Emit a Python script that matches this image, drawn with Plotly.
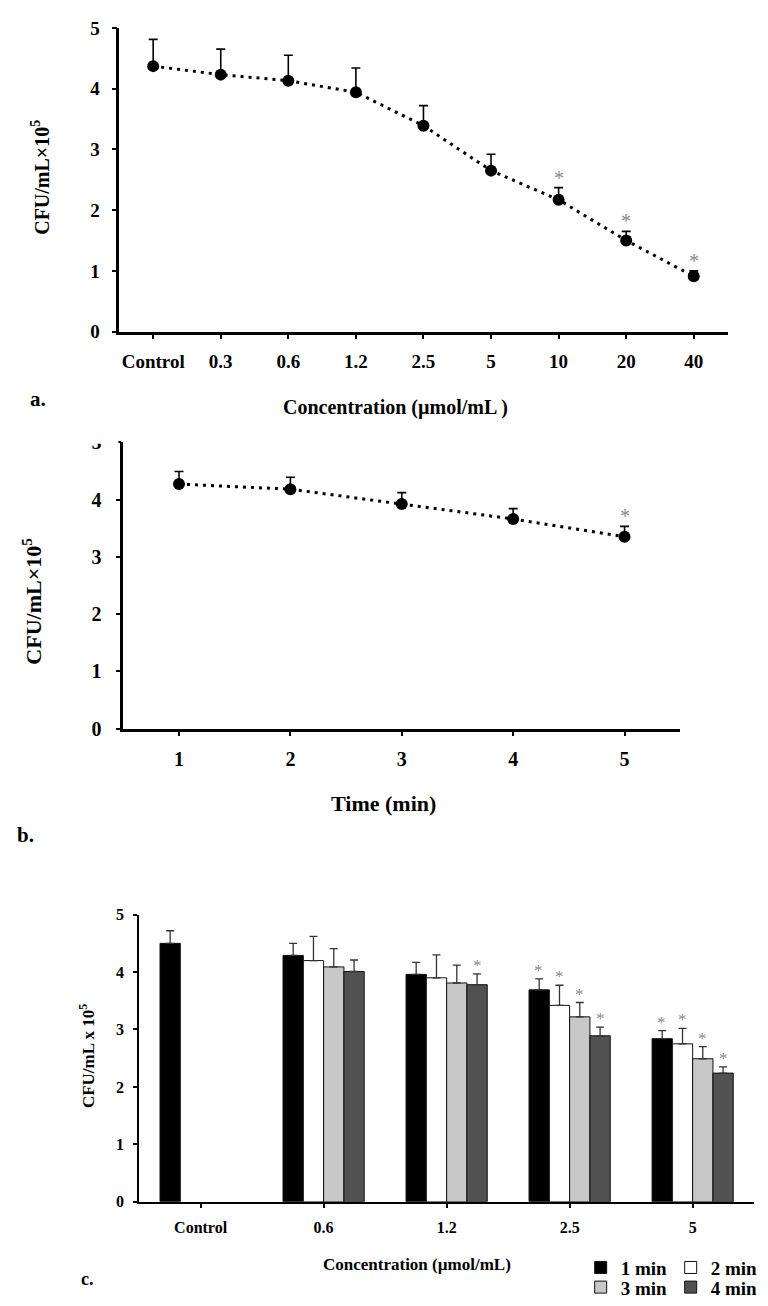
import plotly.graph_objects as go

# ---------------- data ----------------
# Panel a: concentration series
conc_a = ["Control", "0.3", "0.6", "1.2", "2.5", "5", "10", "20", "40"]
cfu_a = [4.37, 4.23, 4.13, 3.94, 3.39, 2.65, 2.17, 1.50, 0.91]
err_a = [0.44, 0.42, 0.42, 0.40, 0.33, 0.27, 0.20, 0.15, 0.09]
sig_a = [0, 0, 0, 0, 0, 0, 1, 1, 1]

# Panel b: time series
time_b = [1, 2, 3, 4, 5]
cfu_b = [4.27, 4.18, 3.92, 3.66, 3.35]
err_b = [0.22, 0.21, 0.20, 0.18, 0.18]
sig_b = [0, 0, 0, 0, 1]

# Panel c: grouped bars
conc_c = ["Control", "0.6", "1.2", "2.5", "5"]
series_c = ["1 min", "2 min", "3 min", "4 min"]
cfu_1min = [4.50, 4.29, 3.96, 3.69, 2.84]
cfu_2min = [None, 4.20, 3.90, 3.42, 2.75]
cfu_3min = [None, 4.09, 3.81, 3.22, 2.49]
cfu_4min = [None, 4.01, 3.78, 2.89, 2.24]
err_1min = [0.22, 0.21, 0.21, 0.19, 0.14]
err_2min = [None, 0.42, 0.40, 0.35, 0.27]
err_3min = [None, 0.32, 0.31, 0.25, 0.21]
err_4min = [None, 0.20, 0.19, 0.15, 0.11]
sig_1min = [0, 0, 0, 1, 1]
sig_2min = [0, 0, 0, 1, 1]
sig_3min = [0, 0, 0, 1, 1]
sig_4min = [0, 0, 1, 1, 1]

# ---------------- layout helpers ----------------
W, H = 768, 1306
FONT = "Liberation Serif"


def px(x):
    return x / W


def py(y):
    return 1 - y / H


bar_colors = ["#000000", "#ffffff", "#c8c8c8", "#515151"]
BARGAP = 0.34

dom_a_x = [px(113), px(730)]
dom_a_y = [py(318), py(9)]
dom_b_x = [px(117), px(682)]
dom_b_y = [py(721.7), py(430.5)]
dom_c_x = [px(133), px(757)]
dom_c_y = [py(1203), py(911)]

fig = go.Figure()

# Panel a
fig.add_trace(go.Scatter(
    x=conc_a, y=cfu_a, mode="lines+markers", xaxis="x", yaxis="y",
    line=dict(color="black", width=3, dash="3px,5px"),
    marker=dict(color="black", size=12),
    error_y=dict(type="data", symmetric=False, array=err_a,
                 arrayminus=[0] * len(err_a), color="black", thickness=1.6, width=4.5),
    showlegend=False, hoverinfo="skip",
))

# Panel b
fig.add_trace(go.Scatter(
    x=time_b, y=cfu_b, mode="lines+markers", xaxis="x2", yaxis="y2",
    line=dict(color="black", width=3, dash="3px,5px"),
    marker=dict(color="black", size=12),
    error_y=dict(type="data", symmetric=False, array=err_b,
                 arrayminus=[0] * len(err_b), color="black", thickness=1.6, width=4.5),
    showlegend=False, hoverinfo="skip",
))

# Panel c
vals_c = [cfu_1min, cfu_2min, cfu_3min, cfu_4min]
errs_c = [err_1min, err_2min, err_3min, err_4min]
sigs_c = [sig_1min, sig_2min, sig_3min, sig_4min]
legend_of = ["legend", "legend", "legend2", "legend2"]
entry_w = [45, 60, 45, 60]
for i, name in enumerate(series_c):
    fig.add_trace(go.Bar(
        x=conc_c, y=vals_c[i], name=name, xaxis="x3", yaxis="y3",
        marker=dict(color=bar_colors[i], line=dict(color="#111111", width=1)),
        error_y=dict(type="data", symmetric=False, array=errs_c[i],
                     arrayminus=[0] * len(conc_c), color="#333333", thickness=1.3, width=4),
        legend=legend_of[i], legendwidth=entry_w[i], hoverinfo="skip",
    ))

axis_common = dict(showgrid=False, zeroline=False, showline=True, linecolor="black",
                   ticks="outside", tickcolor="black", fixedrange=True)

legend_common = dict(xanchor="left", yanchor="middle", orientation="h",
                     bgcolor="rgba(0,0,0,0)", itemwidth=30,
                     entrywidthmode="pixels", tracegroupgap=0,
                     font=dict(family=FONT, size=19, weight="bold"))

fig.update_layout(
    width=W, height=H,
    margin=dict(l=0, r=0, t=0, b=0),
    paper_bgcolor="white", plot_bgcolor="white",
    barmode="group", bargap=BARGAP, bargroupgap=0,
    font=dict(family=FONT, color="black"),
    xaxis=dict(axis_common, domain=dom_a_x, anchor="y", type="category",
               range=[-0.5, 8.5], linewidth=2.5, ticklen=5, tickwidth=2,
               tickfont=dict(family=FONT, size=19, weight="bold"), ticklabelstandoff=6),
    yaxis=dict(axis_common, domain=dom_a_y, anchor="x", range=[0, 5], dtick=1,
               linewidth=2.5, ticklen=5, tickwidth=2,
               tickfont=dict(family=FONT, size=19, weight="bold"), ticklabelstandoff=8),
    xaxis2=dict(axis_common, domain=dom_b_x, anchor="y2", range=[0.5, 5.5],
                tickvals=time_b, linewidth=2.5, ticklen=5, tickwidth=2,
                tickfont=dict(family=FONT, size=20, weight="bold"), ticklabelstandoff=6),
    yaxis2=dict(axis_common, domain=dom_b_y, anchor="x2", range=[0, 5], dtick=1,
                linewidth=2.5, ticklen=5, tickwidth=2,
                tickfont=dict(family=FONT, size=20, weight="bold"), ticklabelstandoff=10),
    xaxis3=dict(axis_common, domain=dom_c_x, anchor="y3", type="category",
                range=[-0.5, 4.5], linewidth=2, ticklen=4, tickwidth=1.5,
                tickfont=dict(family=FONT, size=16, weight="bold"), ticklabelstandoff=6),
    yaxis3=dict(axis_common, domain=dom_c_y, anchor="x3", range=[0, 5], dtick=1,
                linewidth=2, ticklen=4, tickwidth=1.5,
                tickfont=dict(family=FONT, size=16, weight="bold"), ticklabelstandoff=6),
    legend=dict(legend_common, x=px(581), y=py(1270)),
    legend2=dict(legend_common, x=px(581), y=py(1290)),
)

ann = []


def text_ann(x, y, text, size, angle=0):
    ann.append(dict(x=px(x), y=py(y), xref="paper", yref="paper", text=text,
                    showarrow=False, textangle=angle, xanchor="center", yanchor="middle",
                    font=dict(family=FONT, size=size, color="black", weight="bold")))


text_ann(30, 387, "a.", 21)
text_ann(393, 395, "Concentration (µmol/mL )", 20)
text_ann(33, 161, "CFU/mL×10<sup>5</sup>", 20, -90)
text_ann(18, 830, "b.", 21)
text_ann(381, 798, "Time (min)", 22)
text_ann(24, 592, "CFU/mL×10<sup>5</sup>", 22, -90)
text_ann(81, 1282, "c.", 18)
text_ann(415, 1267, "Concentration (µmol/mL)", 17)
text_ann(80, 1055, "CFU/mL x 10<sup>5</sup>", 17, -90)

STAR = "#8a8a8a"
# category axes: annotation x given as category index
for k, (yv, ev, s) in enumerate(zip(cfu_a, err_a, sig_a)):
    if s:
        ann.append(dict(x=k, y=yv + ev, xref="x", yref="y", text="*", showarrow=False,
                        yanchor="bottom", yshift=-3,
                        font=dict(family=FONT, size=20, color=STAR)))
for xv, yv, ev, s in zip(time_b, cfu_b, err_b, sig_b):
    if s:
        ann.append(dict(x=xv, y=yv + ev, xref="x2", yref="y2", text="*", showarrow=False,
                        yanchor="bottom", yshift=-3,
                        font=dict(family=FONT, size=20, color=STAR)))

# bar slot width in px derived from axis domain/range and bargap
cat_px = (dom_c_x[1] - dom_c_x[0]) * W / len(conc_c)
slot = cat_px * (1 - BARGAP) / len(series_c)
for i in range(len(series_c)):
    shift = (i - (len(series_c) - 1) / 2) * slot
    for k, (yv, ev, s) in enumerate(zip(vals_c[i], errs_c[i], sigs_c[i])):
        if s and yv is not None:
            ann.append(dict(x=k, y=yv + ev, xref="x3", yref="y3", text="*",
                            showarrow=False, yanchor="bottom", xshift=shift, yshift=-3,
                            font=dict(family=FONT, size=17, color=STAR)))

fig.update_layout(annotations=ann)

# mask reproducing the cropped top of panel b's "5" label
fig.add_shape(type="rect", xref="paper", yref="paper", layer="above",
              x0=px(60), x1=px(112), y0=py(432), y1=py(410),
              fillcolor="white", line=dict(width=0))

fig.write_html("out.html")
